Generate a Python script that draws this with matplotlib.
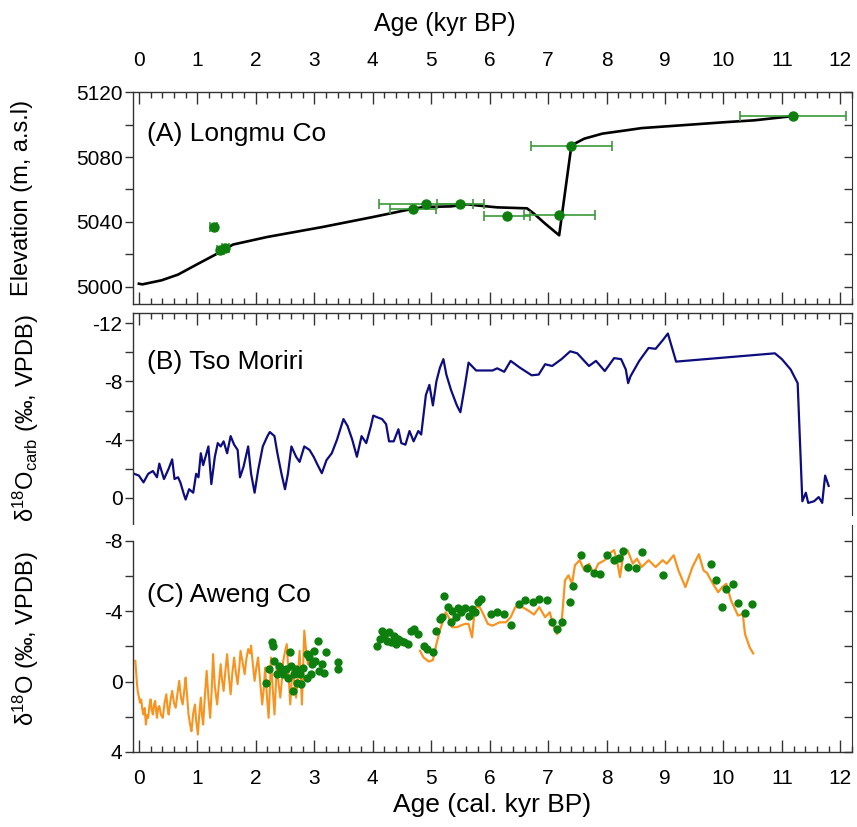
import numpy as np
import matplotlib.pyplot as plt
from matplotlib.ticker import MultipleLocator

plt.rcParams['font.family'] = ['Liberation Sans', 'DejaVu Sans']
plt.rcParams['mathtext.fontset'] = 'custom'
plt.rcParams['mathtext.rm'] = 'Liberation Sans'
plt.rcParams['mathtext.it'] = 'Liberation Sans'
plt.rcParams['axes.unicode_minus'] = False

# (A) Longmu Co lake level
longmu_age = [0.0, 0.06, 0.39, 0.67, 1.02, 1.34, 1.61, 2.20, 3.14, 4.01, 4.56, 4.87,
              5.34, 5.62, 5.81, 6.13, 6.64, 6.76, 6.95, 7.19, 7.40, 7.62, 7.93,
              8.33, 8.60, 9.27, 10.05, 10.53, 11.19]
longmu_elev = [5002.0, 5001.6, 5004.1, 5007.6, 5014.4, 5020.5, 5026.1, 5030.8, 5036.9,
               5043.1, 5047.2, 5049.2, 5049.6, 5050.9, 5050.1, 5049.0, 5048.4, 5045.1,
               5039.0, 5031.8, 5087.2, 5091.3, 5094.4, 5096.4, 5097.8, 5099.5, 5101.5,
               5102.6, 5105.2]
shore_age = [1.28, 1.39, 1.48, 4.69, 4.91, 5.50, 6.30, 7.19, 7.40, 11.19]
shore_elev = [5037.0, 5022.6, 5024.2, 5047.8, 5051.3, 5051.3, 5043.7, 5044.1, 5086.8, 5105.2]
shore_err = [0.06, 0.06, 0.06, 0.40, 0.81, 0.40, 0.39, 0.61, 0.70, 0.90]

# (B) Tso Moriri d18O carb
tso_age = [-0.08, 0.0, 0.08, 0.16, 0.24, 0.31, 0.35, 0.43, 0.51, 0.57, 0.61, 0.67, 0.71,
           0.77, 0.80, 0.86, 0.93, 0.98, 1.02, 1.06, 1.10, 1.14, 1.19, 1.24, 1.30, 1.35,
           1.40, 1.45, 1.51, 1.57, 1.63, 1.69, 1.73, 1.79, 1.87, 1.92, 1.98, 2.04, 2.12,
           2.20, 2.24, 2.32, 2.37, 2.44, 2.50, 2.55, 2.61, 2.69, 2.75, 2.83, 2.92, 2.99,
           3.06, 3.13, 3.21, 3.30, 3.39, 3.50, 3.57, 3.65, 3.73, 3.81, 3.89, 3.97, 4.01,
           4.08, 4.16, 4.23, 4.28, 4.36, 4.44, 4.49, 4.56, 4.63, 4.70, 4.78, 4.83, 4.91,
           4.97, 5.03, 5.09, 5.15, 5.21, 5.26, 5.34, 5.44, 5.50, 5.58, 5.64, 5.77, 6.05,
           6.13, 6.25, 6.36, 6.52, 6.72, 6.84, 6.95, 7.07, 7.23, 7.38, 7.50, 7.70, 7.82,
           7.97, 8.13, 8.25, 8.33, 8.37, 8.41, 8.56, 8.72, 8.84, 8.96, 9.05, 9.19, 10.05,
           10.88, 11.0, 11.15, 11.27, 11.35, 11.41, 11.45, 11.55, 11.63, 11.69, 11.74, 11.80]
tso_d18o = [-1.65, -1.53, -1.06, -1.65, -1.84, -1.41, -2.35, -1.29, -2.0, -2.64, -1.29,
            -1.41, -1.06, -0.24, 0.12, -0.59, -0.35, -1.65, -1.41, -3.06, -2.24, -2.82,
            -3.53, -0.94, -2.82, -3.76, -3.53, -3.88, -3.06, -4.24, -3.65, -3.29, -1.41,
            -2.12, -3.53, -1.65, -0.35, -1.88, -3.53, -4.24, -4.52, -4.24, -3.06, -1.65,
            -0.59, -1.65, -3.53, -2.82, -2.47, -3.53, -3.29, -2.82, -2.24, -1.69, -2.59,
            -3.06, -4.0, -5.41, -4.94, -4.0, -2.82, -4.24, -3.76, -4.94, -5.65, -5.53,
            -5.41, -5.06, -3.88, -3.88, -4.71, -3.76, -3.65, -4.59, -3.88, -4.59, -4.35,
            -7.06, -7.76, -6.35, -8.0, -8.94, -9.53, -8.47, -7.41, -6.35, -5.88, -7.76,
            -9.29, -8.75, -8.75, -8.9, -8.66, -9.41, -8.94, -8.42, -8.47, -9.18, -9.06,
            -9.53, -10.07, -9.93, -9.06, -9.41, -8.71, -9.6, -9.53, -8.82, -7.88, -8.35,
            -9.41, -10.3, -10.24, -10.82, -11.29, -9.36, -9.65, -9.93, -9.53, -8.82, -7.88,
            0.24, -0.35, 0.35, 0.24, -0.05, 0.35, -1.53, -0.82]

# (C) Aweng Co d18O, orange record (two segments)
aw1_age = [-0.06, -0.03, -0.02, 0.02, 0.04, 0.06, 0.08, 0.10, 0.12, 0.14, 0.16, 0.18,
           0.20, 0.22, 0.24, 0.26, 0.28, 0.30, 0.31, 0.33, 0.35, 0.38, 0.41, 0.44, 0.47,
           0.49, 0.51, 0.54, 0.57, 0.60, 0.63, 0.66, 0.69, 0.72, 0.75, 0.78, 0.80, 0.83,
           0.85, 0.88, 0.90, 0.93, 0.96, 0.98, 1.01, 1.03, 1.06, 1.08, 1.10, 1.13, 1.16,
           1.19, 1.22, 1.25, 1.27, 1.30, 1.34, 1.37, 1.40, 1.42, 1.45, 1.48, 1.51, 1.54,
           1.57, 1.60, 1.63, 1.66, 1.69, 1.72, 1.74, 1.78, 1.81, 1.84, 1.87, 1.90, 1.92,
           1.95, 1.98, 2.01, 2.04, 2.08, 2.11, 2.14, 2.16, 2.19, 2.22, 2.24, 2.26, 2.29,
           2.32, 2.34, 2.36, 2.39, 2.42, 2.45, 2.47, 2.50, 2.53, 2.56, 2.59, 2.61, 2.63,
           2.66, 2.69, 2.72, 2.75, 2.77, 2.79, 2.81, 2.83, 2.86, 2.89, 2.92, 2.95]
aw1_d18o = [-1.18, 0.2, 0.53, 1.2, 1.01, 1.6, 1.87, 1.5, 2.44, 1.9, 2.06, 1.4, 1.01, 1.6,
            1.87, 1.3, 1.10, 1.8, 2.06, 1.5, 1.39, 1.9, 2.06, 1.2, 0.72, 1.5, 1.87, 1.1,
            0.53, 1.2, 1.49, 0.7, -0.04, 0.9, 1.30, 0.4, -0.23, 1.0, 1.87, 2.5, 2.82, 1.8,
            1.30, 2.2, 3.01, 2.0, 0.91, 1.9, 2.44, 0.8, -0.61, 0.9, 2.06, 0.2, -1.56, 0.3,
            1.30, 0.1, -0.99, -0.2, 0.53, -0.6, -1.56, -0.3, 0.72, -0.5, -1.37, -0.5, 0.15,
            -0.9, -1.75, -1.0, -0.42, -1.3, -1.85, -1.6, -2.04, -1.0, -0.04, -0.8, -1.37,
            0.2, 1.30, 0.3, -0.80, 0.8, 2.06, 0.5, -1.37, 0.4, 1.87, 0.5, -0.99, 0.1, 0.91,
            -0.2, -1.18, -1.7, -2.13, -0.5, 1.30, 0.2, -0.99, 0.1, 0.91, -0.4, -1.75, -0.2,
            1.30, -0.8, -2.90, -1.8, -0.99, -1.4, -1.75]
aw2_age = [4.81, 4.87, 4.96, 5.03, 5.09, 5.15, 5.25, 5.30, 5.36, 5.44, 5.50, 5.58, 5.64,
           5.70, 5.75, 5.83, 5.89, 5.97, 6.05, 6.17, 6.28, 6.36, 6.44, 6.56, 6.66, 6.76,
           6.85, 6.95, 7.03, 7.09, 7.15, 7.23, 7.29, 7.35, 7.41, 7.46, 7.54, 7.62, 7.70,
           7.78, 7.86, 7.97, 8.05, 8.13, 8.19, 8.23, 8.29, 8.36, 8.45, 8.52, 8.60, 8.72,
           8.84, 8.96, 9.03, 9.15, 9.23, 9.35, 9.47, 9.58, 9.66, 9.72, 9.82, 9.91, 9.98,
           10.05, 10.13, 10.25, 10.33, 10.37, 10.45, 10.51]
aw2_d18o = [-1.75, -1.37, -1.14, -1.22, -2.13, -2.90, -3.94, -3.66, -3.09, -3.09, -3.18,
            -3.28, -3.28, -2.52, -4.23, -4.23, -3.85, -3.28, -3.18, -3.37, -3.37, -3.66,
            -4.23, -4.23, -4.04, -3.81, -4.23, -3.66, -3.94, -3.18, -2.70, -3.28, -5.75,
            -6.04, -5.56, -6.61, -6.90, -6.32, -6.70, -6.13, -6.70, -6.90, -7.28, -7.47,
            -6.70, -5.94, -7.28, -7.47, -6.70, -6.99, -6.51, -6.90, -6.51, -6.90, -6.70,
            -7.18, -6.32, -5.37, -6.51, -7.24, -6.32, -6.17, -5.56, -5.08, -5.37, -5.56,
            -4.61, -3.75, -3.85, -2.70, -1.94, -1.60]

# (C) Aweng Co d18O, green points
awpt_age = [2.18, 2.22, 2.28, 2.29, 2.32, 2.36, 2.40, 2.44, 2.47, 2.51, 2.55, 2.59, 2.61,
            2.63, 2.65, 2.69, 2.71, 2.75, 2.77, 2.81, 2.87, 2.87, 2.91, 2.95, 2.97, 2.99,
            3.02, 3.06, 3.08, 3.13, 3.16, 3.21, 3.40, 3.40,
            4.08, 4.12, 4.16, 4.20, 4.24, 4.28, 4.32, 4.36, 4.40, 4.44, 4.48, 4.54, 4.60,
            4.65, 4.71, 4.78, 4.87, 4.93, 5.03, 5.09, 5.15, 5.18, 5.22, 5.28, 5.34, 5.36,
            5.42, 5.46, 5.51, 5.58, 5.64, 5.70, 5.75, 5.80, 5.85, 6.03, 6.13, 6.25, 6.36,
            6.50, 6.61, 6.74, 6.85, 6.98, 7.07, 7.15, 7.24, 7.37, 7.42, 7.56, 7.66, 7.78,
            7.89, 8.01, 8.13, 8.22, 8.29, 8.37, 8.51, 8.60, 8.96, 9.78, 9.88, 9.98, 10.05,
            10.17, 10.25, 10.37, 10.49]
awpt_d18o = [0.06, -0.70, -2.23, -2.04, -1.18, -0.42, -0.90, -0.70, -0.42, -0.70, -0.23,
             -1.66, -0.90, 0.53, -0.42, -0.70, 0.06, -0.42, 0.15, -0.80, -0.23, -1.56,
             -1.37, -0.42, -0.99, -1.75, -1.18, -2.29, -0.61, -0.99, -0.51, -1.70, -1.14,
             -0.70,
             -2.04, -2.42, -2.90, -2.61, -2.32, -2.80, -2.23, -2.61, -2.13, -2.42, -2.32,
             -2.23, -2.13, -2.90, -3.0, -2.70, -2.04, -1.85, -1.66, -2.90, -3.56, -3.66,
             -4.86, -4.23, -3.37, -4.0, -3.66, -4.19, -3.94, -4.19, -3.75, -4.13, -3.94,
             -4.51, -4.70, -3.85, -3.94, -3.85, -3.24, -4.42, -4.65, -4.51, -4.70, -4.65,
             -3.37, -2.99, -3.37, -4.51, -5.41, -7.18, -6.48, -6.17, -6.10, -7.18, -6.93,
             -7.0, -7.43, -6.51, -6.48, -7.37, -6.04, -6.70, -5.79, -4.23, -5.27, -5.52,
             -4.46, -3.90, -4.42]

green = '#0e7f0e'
fig = plt.figure(figsize=(8.57, 8.27), dpi=100)
axA = fig.add_axes([0.1552, 0.6324, 0.8390, 0.2563])
axB = fig.add_axes([0.1552, 0.3664, 0.8390, 0.2551])
axC = fig.add_axes([0.1552, 0.0907, 0.8390, 0.2745])

# right-hand ticks point inward, left-hand ones outward: use twin axes for the right
twins = []
for ax in (axA, axB, axC):
    twins.append(ax.twinx())

# panel A
axA.plot(longmu_age, longmu_elev, color='black', lw=1.9, zorder=3)
axA.errorbar(shore_age, shore_elev, xerr=shore_err, fmt='o', color=green, ms=6.5,
             ecolor='#3a9a3a', elinewidth=1.2, capsize=3.5, capthick=1.2, zorder=4)
axA.set_ylim(4989.5, 5120)
axA.yaxis.set_major_locator(MultipleLocator(40))
axA.yaxis.set_minor_locator(MultipleLocator(20))

# panel B
axB.plot(tso_age, tso_d18o, color='#0d0d80', lw=1.6)
axB.set_ylim(1.8, -12.7)
axB.yaxis.set_major_locator(MultipleLocator(4))
axB.yaxis.set_minor_locator(MultipleLocator(2))

# panel C
axC.plot(aw1_age, aw1_d18o, color='#f7931e', lw=1.5)
axC.plot(aw2_age, aw2_d18o, color='#f7931e', lw=1.6)
axC.plot(awpt_age, awpt_d18o, 'o', color=green, ms=5, zorder=4)
axC.set_ylim(4, -8.9)
axC.yaxis.set_major_locator(MultipleLocator(4))
axC.yaxis.set_minor_locator(MultipleLocator(2))

tick_kw = dict(labelsize=15, width=1.0, color='#333333')
for ax, tw in zip((axA, axB, axC), twins):
    ax.set_xlim(-0.1, 12.2)
    ax.xaxis.set_major_locator(MultipleLocator(1))
    ax.xaxis.set_minor_locator(MultipleLocator(0.2))
    ax.tick_params(axis='x', which='both', direction='in', **tick_kw)
    ax.tick_params(axis='x', which='major', length=8.5)
    ax.tick_params(axis='x', which='minor', length=4.5)
    ax.tick_params(axis='y', which='both', direction='out', left=True, right=False,
                   length=6, pad=1.5, **tick_kw)
    for s in ax.spines.values():
        s.set_color('#333333')
        s.set_linewidth(1.0)
    ax.spines['right'].set_visible(False)

    tw.set_ylim(ax.get_ylim())
    tw.yaxis.set_major_locator(ax.yaxis.get_major_locator())
    tw.yaxis.set_minor_locator(ax.yaxis.get_minor_locator())
    tw.tick_params(axis='y', which='both', direction='in', length=6, labelright=False,
                   width=1.0, color='#333333')
    for name, s in tw.spines.items():
        s.set_visible(name == 'right')
        s.set_color('#333333')

axA.tick_params(axis='x', which='both', top=True, bottom=True,
                labeltop=True, labelbottom=False, pad=16)
fig.text(445 / 857, 1 - 24 / 827, 'Age (kyr BP)', fontsize=18, ha='center', va='center')
axA.set_ylabel('Elevation (m, a.s.l)', fontsize=17)
axA.yaxis.set_label_coords(-0.139, 0.5)
axA.text(0.02, 0.80, '(A) Longmu Co', transform=axA.transAxes, fontsize=19, va='center')

axB.spines['bottom'].set_visible(False)
axB.tick_params(axis='x', which='both', top=True, bottom=False,
                labeltop=False, labelbottom=False)
twins[1].spines['right'].set_bounds(-12.7, 1.2)
axB.set_ylabel(r'δ$^{18}$O$_{\mathrm{carb}}$ (‰, VPDB)', fontsize=17)
axB.yaxis.set_label_coords(-0.128, 0.5)
axB.text(0.02, 0.77, '(B) Tso Moriri', transform=axB.transAxes, fontsize=19, va='center')

axC.spines['top'].set_visible(False)
axC.spines['left'].set_bounds(4, -8)
axC.tick_params(axis='x', which='both', top=False, bottom=True,
                labeltop=False, labelbottom=True, pad=12)
axC.set_xlabel('Age (cal. kyr BP)', fontsize=19, labelpad=4)
axC.set_ylabel(r'δ$^{18}$O (‰, VPDB)', fontsize=17)
axC.yaxis.set_label_coords(-0.128, 0.5)
axC.text(0.02, 0.69, '(C) Aweng Co', transform=axC.transAxes, fontsize=19, va='center')

fig.savefig('out.png', dpi=100)
